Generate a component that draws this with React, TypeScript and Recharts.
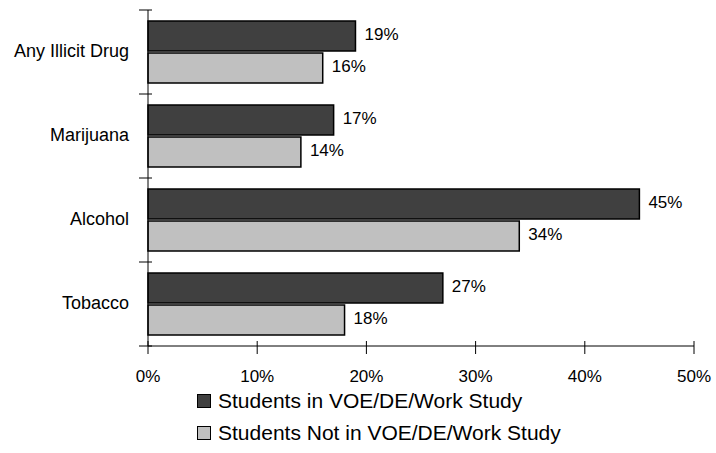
import React from 'react';
import { BarChart, Bar, XAxis, YAxis, LabelList } from 'recharts';

const categories = ['Any Illicit Drug', 'Marijuana', 'Alcohol', 'Tobacco'];
const inProgram = [19, 17, 45, 27];
const notInProgram = [16, 14, 34, 18];
const xTicks = [0, 10, 20, 30, 40, 50];

const seriesNames = ['Students in VOE/DE/Work Study', 'Students Not in VOE/DE/Work Study'];
const seriesColors = ['#404040', '#c0c0c0'];

const FONT = '"Liberation Sans", Arial, sans-serif';

const W = 716;
const H = 453;
const margin = { top: 10, right: 22, bottom: 77, left: 0 };
const xAxisHeight = 30;
const plotH = H - margin.top - margin.bottom - xAxisHeight;
const halfBand = plotH / categories.length / 2;

const data = categories.map((c, i) => ({
    name: c,
    inProg: inProgram[i],
    notIn: notInProgram[i]
}));

const XTick = (props: any) => {
    const { x, y, payload } = props;
    return (
        <g>
            <line x1={x} x2={x} y1={y - 7} y2={y + 6} stroke="#000" strokeWidth={1} />
            <text x={x} y={y + 34} textAnchor="middle" fontSize={17} fontFamily={FONT} fill="#000">
                {payload.value}%
            </text>
        </g>
    );
};

const YTick = (props: any) => {
    const { x, y, payload, index } = props;
    return (
        <g>
            <line x1={x - 7} x2={x + 6} y1={y - halfBand} y2={y - halfBand} stroke="#000" strokeWidth={1} />
            {index === categories.length - 1 && (
                <line x1={x - 7} x2={x + 6} y1={y + halfBand} y2={y + halfBand} stroke="#000" strokeWidth={1} />
            )}
            <text x={x - 17} y={y + 5} textAnchor="end" fontSize={18} fontFamily={FONT} fill="#000">
                {payload.value}
            </text>
        </g>
    );
};

const ValueLabel = (props: any) => {
    const { x, y, width, height, value } = props;
    return (
        <text x={x + width + 9} y={y + height / 2 + 4} fontSize={17} fontFamily={FONT} fill="#000">
            {value}%
        </text>
    );
};

export default function App() {
    return (
        <div style={{ position: 'absolute', left: 0, top: 0, width: W, height: H, background: '#fff' }}>
            <BarChart
                width={W}
                height={H}
                data={data}
                layout="vertical"
                margin={margin}
                barCategoryGap={11}
                barGap={2}
            >
                <XAxis
                    type="number"
                    domain={[0, 50]}
                    ticks={xTicks}
                    height={xAxisHeight}
                    tickSize={0}
                    tickLine={false}
                    axisLine={{ stroke: '#000' }}
                    tick={<XTick />}
                    interval={0}
                />
                <YAxis
                    type="category"
                    dataKey="name"
                    width={148}
                    tickSize={0}
                    tickLine={false}
                    axisLine={{ stroke: '#000' }}
                    tick={<YTick />}
                    interval={0}
                />
                <Bar dataKey="inProg" fill={seriesColors[0]} stroke="#000" strokeWidth={1.5} barSize={30} isAnimationActive={false}>
                    <LabelList dataKey="inProg" content={<ValueLabel />} />
                </Bar>
                <Bar dataKey="notIn" fill={seriesColors[1]} stroke="#000" strokeWidth={1.5} barSize={30} isAnimationActive={false}>
                    <LabelList dataKey="notIn" content={<ValueLabel />} />
                </Bar>
            </BarChart>
            {seriesNames.map((n, i) => (
                <div
                    key={n}
                    style={{
                        position: 'absolute',
                        left: 197,
                        top: 387 + i * 32,
                        height: 28,
                        display: 'flex',
                        alignItems: 'center',
                        fontFamily: FONT,
                        fontSize: 21,
                        whiteSpace: 'nowrap',
                        color: '#000'
                    }}
                >
                    <span
                        style={{
                            display: 'inline-block',
                            width: 12,
                            height: 12,
                            background: seriesColors[i],
                            border: '1px solid #000',
                            marginRight: 7
                        }}
                    />
                    {n}
                </div>
            ))}
        </div>
    );
}
